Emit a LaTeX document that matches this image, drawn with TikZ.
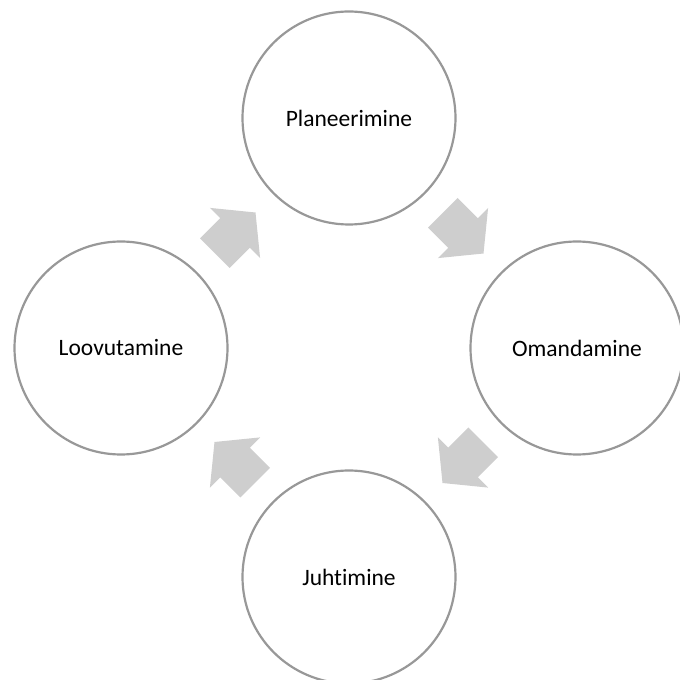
\documentclass[tikz,border=0pt]{standalone}
\usepackage{fontspec}
\setmainfont{Carlito}[Ligatures=NoCommon]
\usetikzlibrary{calc}

\definecolor{ringgray}{RGB}{152,152,152}
\definecolor{arrowgray}{RGB}{206,206,206}

\tikzset{
    stage/.style={draw=ringgray, line width=2.2pt, circle, fill=white,
        minimum size=213pt, inner sep=0pt, font=\fontsize{23.5}{28}\selectfont},
    cyclearrow/.pic={
        \fill[arrowgray] (-28.5,-21) -- (0,-21) -- (0,-35.5) -- (29,0)
            -- (0,35.5) -- (0,21) -- (-28.5,21) -- cycle;
    }
}

\begin{document}
\begin{tikzpicture}[x=1pt, y=1pt]
    \useasboundingbox (0,0) rectangle (680,680);

    % Stages
    \node[stage] (plan) at (349,562) {Planeerimine};
    \node[stage] (omand) at (577,332) {Omandamine};
    \node[stage] (juht) at (349,103) {Juhtimine};
    \node[stage] (loov) at (121,332) {Loovutamine};

    % Cycle arrows
    \pic[rotate=-45] at ($(plan)!0.5!(omand)$) {cyclearrow};
    \pic[rotate=-135] at ($(omand)!0.5!(juht)$) {cyclearrow};
    \pic[rotate=135] at ($(juht)!0.5!(loov)$) {cyclearrow};
    \pic[rotate=45] at ($(loov)!0.5!(plan)$) {cyclearrow};

\end{tikzpicture}
\end{document}
